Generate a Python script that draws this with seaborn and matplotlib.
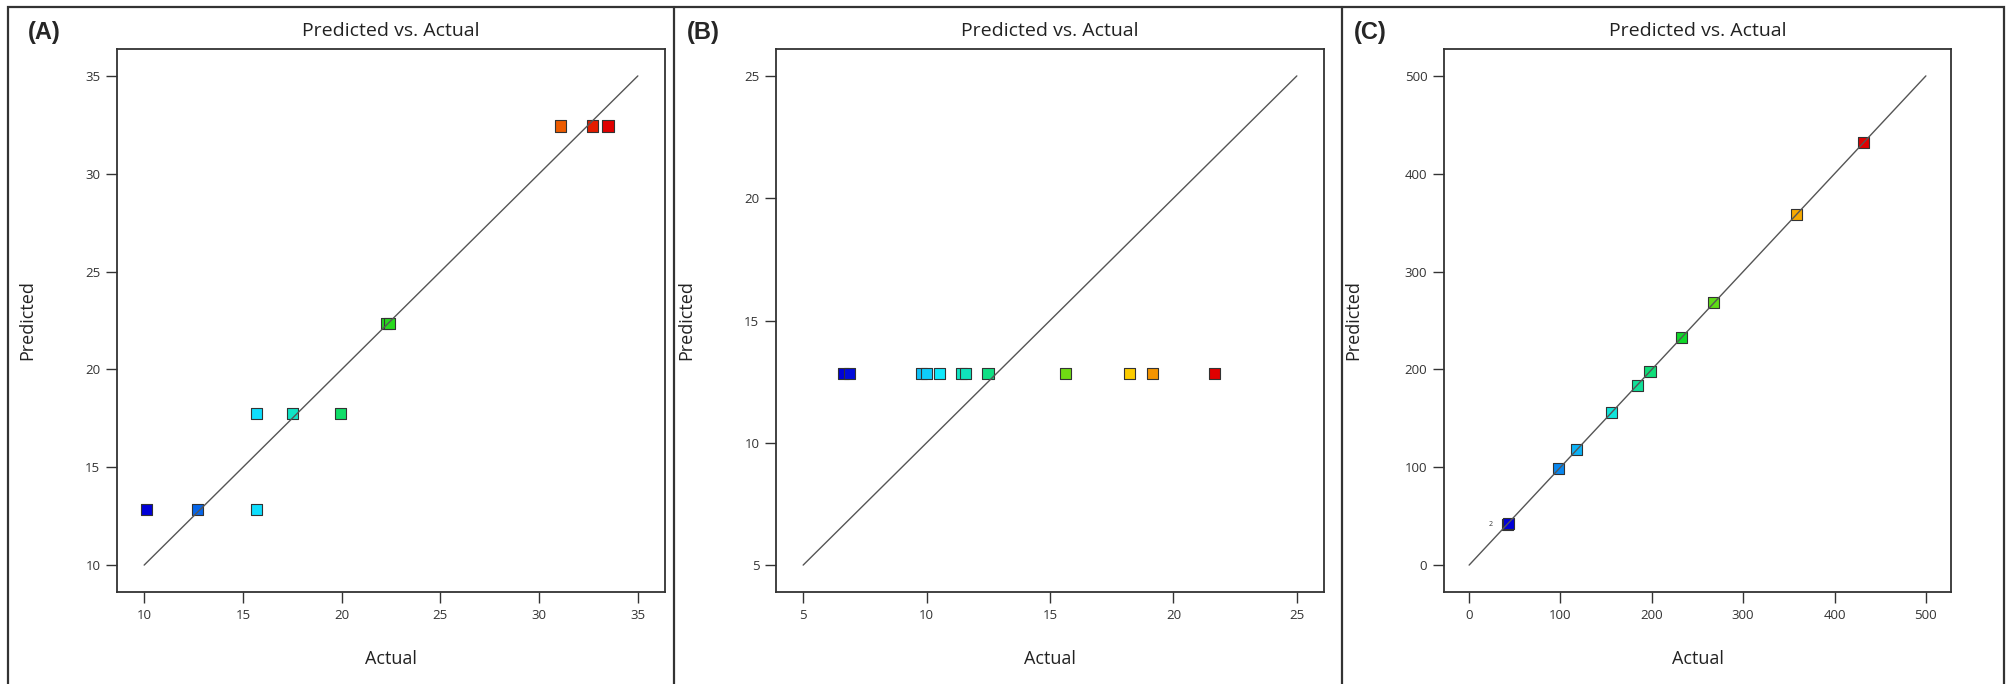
import numpy as np
import pandas as pd
import seaborn as sns
import matplotlib.pyplot as plt
from matplotlib.colors import LinearSegmentedColormap
from matplotlib.patches import Rectangle
from matplotlib.lines import Line2D

# 数据 (A)
a_actual = [10.13, 12.69, 15.70, 15.70, 17.51, 19.94, 22.28, 22.42, 31.08, 32.72, 33.49]
a_pred = [12.84, 12.84, 12.84, 17.73, 17.73, 17.73, 22.36, 22.36, 32.44, 32.44, 32.44]
a_ticks = [10, 15, 20, 25, 30, 35]

# 数据 (B)
b_actual = [6.65, 6.86, 9.80, 9.98, 10.51, 11.40, 11.57, 12.49, 15.63, 18.23, 19.14, 21.65]
b_pred = [12.84] * 12
b_ticks = [5, 10, 15, 20, 25]

# 数据 (C)
c_actual = [41.8, 43.0, 98.3, 117.5, 155.4, 184.1, 198.0, 232.8, 268.0, 358.0, 432.0]
c_pred = [41.8, 42.5, 98.7, 117.8, 155.6, 184.0, 197.8, 232.9, 268.0, 358.2, 431.6]
c_ticks = [0, 100, 200, 300, 400, 500]

panel_labels = ['(A)', '(B)', '(C)']
title = 'Predicted vs. Actual'

sns.set_style('white')
plt.rcParams['font.family'] = ['Open Sans', 'DejaVu Sans']

# Design-Expert 风格的颜色
cmap = LinearSegmentedColormap.from_list(
    'de', ['#0000d8', '#10e8ff', '#10d820', '#ffe000', '#e00000'])

W, H = 2009, 684
fig = plt.figure(figsize=(W / 100, H / 100), dpi=100)

# 外框和分隔线
fig.patches.append(Rectangle((8 / W, -0.1), (2004 - 8) / W, 1.1 - 7 / H,
                             transform=fig.transFigure, fill=False,
                             edgecolor='#333333', linewidth=1.6))
for xd in [674, 1342]:
    fig.lines.append(Line2D([xd / W, xd / W], [0, 1 - 7 / H],
                            transform=fig.transFigure, color='#333333', linewidth=1.6))

# 坐标轴位置 (像素)
boxes = [(117, 665), (776, 1324), (1444, 1951)]
top, bottom = 49, 592
datasets = [(a_actual, a_pred, a_ticks), (b_actual, b_pred, b_ticks), (c_actual, c_pred, c_ticks)]
ylab_x = [26, 685, 1352]

for i, ((l, r), (xs, ys, ticks)) in enumerate(zip(boxes, datasets)):
    ax = fig.add_axes([l / W, 1 - bottom / H, (r - l) / W, (bottom - top) / H])
    df = pd.DataFrame({'Actual': xs, 'Predicted': ys})
    sns.scatterplot(data=df, x='Actual', y='Predicted', hue='Actual', palette=cmap,
                    hue_norm=(min(xs), max(xs)), marker='s', s=64,
                    edgecolor='#333333', linewidth=0.8, legend=False, ax=ax, zorder=2)
    lo, hi = ticks[0], ticks[-1]
    ax.plot([lo, hi], [lo, hi], color='#555555', linewidth=1.0, zorder=3)
    m = (hi - lo) * 0.055
    ax.set_xlim(lo - m, hi + m)
    ax.set_ylim(lo - m, hi + m)
    ax.set_xticks(ticks)
    ax.set_yticks(ticks)
    ax.tick_params(direction='out', length=8, width=1, color='#333333',
                   labelsize=9.5, labelcolor='#333333', pad=4, bottom=True, left=True)
    for sp in ax.spines.values():
        sp.set_color('#333333')
        sp.set_linewidth(1.3)
    ax.set_title(title, fontsize=14, color='#222222', pad=9)
    ax.set_xlabel('Actual', fontsize=13, color='#222222')
    ax.set_ylabel('Predicted', fontsize=13, color='#222222')
    ax.xaxis.set_label_coords(0.5, -(650 - bottom) / (bottom - top))
    ax.yaxis.set_label_coords((ylab_x[i] + 10 - l) / (r - l), 0.5)
    fig.text((ylab_x[i] + 2) / W, 1 - 32 / H, panel_labels[i], fontsize=17,
             fontweight='bold', family='Liberation Sans', va='center', ha='left')
    if i == 2:
        ax.text(24, 41, '2', fontsize=5, ha='center', va='center', color='#333333')

fig.savefig('out.png', dpi=100)
